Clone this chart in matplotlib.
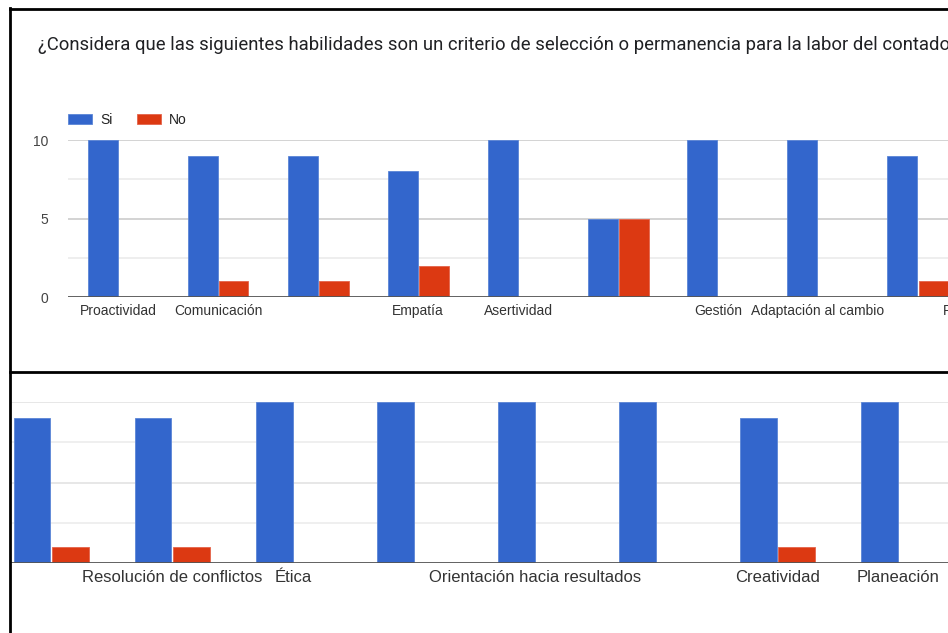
import matplotlib.pyplot as plt
from matplotlib.lines import Line2D
import numpy as np

# encuesta: habilidades como criterio de seleccion (dos capturas del mismo grafico)
top_labels = ["Proactividad", "Comunicación", "", "Empatía", "Asertividad", "",
              "Gestión", "Adaptación al cambio", "", "Resolución de conflictos"]
top_si = [10, 9, 9, 8, 10, 5, 10, 10, 9, 9]
top_no = [0, 1, 1, 2, 0, 5, 0, 0, 1, 1]

bottom_labels = ["", "Resolución de conflictos", "Ética", "", "Orientación hacia resultados",
                 "", "Creatividad", "Planeación"]
bottom_si = [9, 9, 10, 10, 10, 10, 9, 10]
bottom_no = [1, 1, 0, 0, 0, 0, 1, 0]

series_names = ["Si", "No"]
blue = "#3366cc"
red = "#dc3912"

W, H = 948, 633
plt.rcParams['font.family'] = ['Liberation Sans', 'DejaVu Sans']
fig = plt.figure(figsize=(W / 100, H / 100), dpi=100)


def px_axes(x0, y0, x1, y1):
    # rect en pixeles (origen arriba a la izquierda)
    return fig.add_axes([x0 / W, 1 - y1 / H, (x1 - x0) / W, (y1 - y0) / H])


def draw_bars(ax, si, no, labels, width, fsize, xlim, grid_major, grid_minor):
    x = np.arange(len(si))
    b1 = ax.bar(x - width / 2 - 0.005, si, width, color=blue, edgecolor="#5b85d6", linewidth=0.6, zorder=3)
    b2 = ax.bar(x + width / 2 + 0.005, no, width, color=red, edgecolor="#e4634a", linewidth=0.6, zorder=3)
    for v in [5, 10]:
        ax.axhline(v, color=grid_major, lw=1.2, zorder=1)
    for v in [2.5, 7.5]:
        ax.axhline(v, color=grid_minor, lw=1.2, zorder=1)
    ax.axhline(0, color="#555555", lw=1.3, zorder=4)
    for s in ax.spines.values():
        s.set_visible(False)
    ax.set_xticks([])
    # etiquetas como anotaciones: asi se ven tambien las que quedan en el borde
    for xi, lab in zip(x, labels):
        if lab:
            ax.annotate(lab, xy=(xi, 0), xytext=(0, -5), textcoords="offset points",
                        ha="center", va="top", fontsize=fsize, color="#333333",
                        annotation_clip=False)
    ax.set_xlim(*xlim)
    ax.set_ylim(0, 10)
    return b1, b2


# panel superior
ax1 = px_axes(68, 140, W, 297)
bars = draw_bars(ax1, top_si, top_no, top_labels, 0.3, 10, (-0.5, 8.3), "#cccccc", "#ebebeb")
ax1.set_yticks([0, 5, 10])
ax1.set_yticklabels(["0", "5", "10"], fontsize=10, color="#444444")
ax1.tick_params(axis="y", length=0, pad=14)

fig.text(38 / W, 1 - 45 / H,
         "¿Considera que las siguientes habilidades son un criterio de selección o permanencia para la labor del contador?",
         fontsize=13.3, family=["Roboto", "DejaVu Sans"], color="#202124", va="center", ha="left")

fig.legend(bars, series_names, loc="center left", bbox_to_anchor=(68 / W, 1 - 120 / H),
           frameon=False, ncol=2, fontsize=10, handlelength=1.73, handleheight=0.72,
           handletextpad=0.58, columnspacing=1.75, borderpad=0, borderaxespad=0,
           labelcolor="#222222")

# panel inferior (continuacion del mismo grafico, con otro zoom)
ax2 = px_axes(10, 402, W, 563)
draw_bars(ax2, bottom_si, bottom_no, bottom_labels, 0.305, 12, (-0.339, 7.41), "#e3e3e3", "#ececec")
ax2.set_yticks([])

# marcos negros de las capturas
for (xa, ya, xb, yb) in [(9.5, 8, 9.5, H), (9.5, 8.5, W, 8.5), (9.5, 372, W, 372)]:
    fig.add_artist(Line2D([xa / W, xb / W], [1 - ya / H, 1 - yb / H], color="black", lw=2,
                          transform=fig.transFigure))

fig.savefig("out.png", dpi=100)
